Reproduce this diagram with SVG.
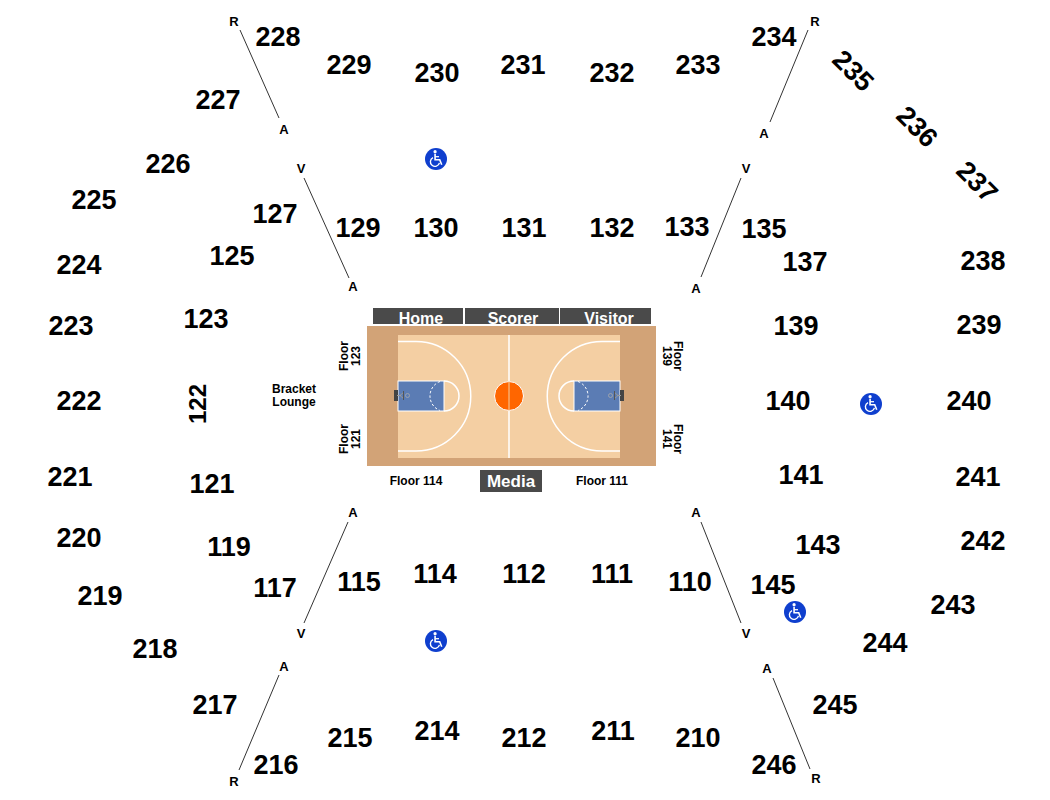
<svg xmlns="http://www.w3.org/2000/svg" width="1050" height="800" viewBox="0 0 1050 800">
<style>
text{font-family:"Liberation Sans",Arial,sans-serif;font-weight:700;fill:#000;text-anchor:middle}
.s{font-size:27px}
.l{font-size:13px}
.f{font-size:12px}
.b{font-size:16px;fill:#fff}
.bar{fill:#4a4a4a}
.c{stroke:#333;stroke-width:1;fill:none}
.w{stroke:#fff;stroke-width:1.5;fill:none}
.d{stroke:#fff;stroke-width:1;stroke-dasharray:2.5 2;fill:none}
</style>
<defs>
<clipPath id="homeClip"><rect x="373" y="308" width="278" height="16"/></clipPath>
<g id="wc">
<circle r="11" fill="#0f3fce"/>
<g transform="scale(1.15)">
<circle cx="-0.8" cy="-6.4" r="1.4" fill="#fff"/>
<path d="M-0.8-4.6V0.6H3.2L5 5" fill="none" stroke="#fff" stroke-width="1.4"/>
<path d="M-0.8-2H2.6" fill="none" stroke="#fff" stroke-width="1.1"/>
<path d="M-2.6-1.2A4 4 0 1 0 3 3.4" fill="none" stroke="#fff" stroke-width="1.2"/>
</g>
</g>
<g id="halfcourt">
<rect x="398" y="381" width="46" height="30" fill="#5b7cb4" stroke="#fff" stroke-width="1"/>
<path class="w" d="M398 341.500H416A54.750 54.750 0 0 1 416 451H398"/>
<path class="w" d="M444 381A15 15 0 0 1 444 411" stroke-width="1"/>
<path class="d" d="M440 381.500A15.500 15.500 0 0 0 440 410.500"/>
<rect x="394" y="390" width="4" height="11" fill="#444"/>
<path d="M397 395.500H401M404 392L400 395.500L404 399" stroke="#999" stroke-width="1" fill="none"/>
<path d="M403.500 391V400" stroke="#555" stroke-width="1"/>
<circle cx="407.500" cy="395.500" r="2" fill="none" stroke="#a9a9a9" stroke-width="0.8"/>
</g>
</defs>
<rect width="1050" height="800" fill="#fff"/>

<g id="connectors">
<path class="c" d="M240 30L279 118"/>
<path class="c" d="M304 178L349 278"/>
<path class="c" d="M808 30L770 122"/>
<path class="c" d="M741 178L701 277"/>
<path class="c" d="M348 522L304 623"/>
<path class="c" d="M279 675L239 770"/>
<path class="c" d="M701 522L741 623"/>
<path class="c" d="M773 678L810 769"/>
</g>

<g id="court">
<rect x="367" y="326" width="289" height="140" fill="#d2a377"/>
<rect x="398" y="335" width="222" height="123" fill="#f4cfa3"/>
<use href="#halfcourt"/>
<use href="#halfcourt" transform="matrix(-1 0 0 1 1018 0)"/>
<path class="w" d="M509 335V458"/>
<circle cx="509" cy="396" r="14.500" fill="#f60" stroke="#fff" stroke-width="1"/>
<path d="M509 381V411" stroke="#f4cfa3" stroke-width="1"/>
</g>

<g id="bars">
<rect class="bar" x="373" y="308" width="90" height="16"/>
<rect class="bar" x="465" y="308" width="94" height="16"/>
<rect class="bar" x="560" y="308" width="91" height="16"/>
<g clip-path="url(#homeClip)">
<text class="b" x="421" y="323.500">Home</text>
<text class="b" x="513" y="323.500">Scorer</text>
<text class="b" x="609" y="323.500">Visitor</text>
</g>
<rect class="bar" x="480" y="470" width="62" height="22"/>
<text class="b" x="511" y="487" style="font-size:17px">Media</text>
</g>

<g id="floor-labels">
<text class="f" transform="translate(348 356) rotate(-90)">Floor</text>
<text class="f" transform="translate(360 356) rotate(-90)">123</text>
<text class="f" transform="translate(348 439) rotate(-90)">Floor</text>
<text class="f" transform="translate(360 439) rotate(-90)">121</text>
<text class="f" transform="translate(674 356) rotate(90)">Floor</text>
<text class="f" transform="translate(663 356) rotate(90)">139</text>
<text class="f" transform="translate(674 439) rotate(90)">Floor</text>
<text class="f" transform="translate(663 439) rotate(90)">141</text>
<text class="f" x="416" y="485">Floor 114</text>
<text class="f" x="602" y="485">Floor 111</text>
<text class="f" x="294" y="393">Bracket</text>
<text class="f" x="294" y="406">Lounge</text>
</g>

<g id="aisle-labels">
<text class="l" x="234" y="26">R</text>
<text class="l" x="284" y="134">A</text>
<text class="l" x="301" y="173">V</text>
<text class="l" x="353" y="291">A</text>
<text class="l" x="815" y="26">R</text>
<text class="l" x="764" y="138">A</text>
<text class="l" x="746" y="173">V</text>
<text class="l" x="696" y="293">A</text>
<text class="l" x="353" y="517">A</text>
<text class="l" x="301" y="638">V</text>
<text class="l" x="284" y="671">A</text>
<text class="l" x="234" y="786">R</text>
<text class="l" x="696" y="517">A</text>
<text class="l" x="746" y="638">V</text>
<text class="l" x="767" y="673">A</text>
<text class="l" x="816" y="783">R</text>
</g>

<g id="accessible">
<use href="#wc" x="436" y="159"/>
<use href="#wc" x="871" y="404"/>
<use href="#wc" x="795" y="612"/>
<use href="#wc" x="436" y="641"/>
</g>

<g id="sections">
<text class="s" x="278" y="46">228</text>
<text class="s" x="349" y="74">229</text>
<text class="s" x="437" y="82">230</text>
<text class="s" x="523" y="74">231</text>
<text class="s" x="612" y="82">232</text>
<text class="s" x="698" y="74">233</text>
<text class="s" x="774" y="46">234</text>
<text class="s" transform="translate(853.500 70.500) rotate(45)" y="9.500">235</text>
<text class="s" transform="translate(917.500 126.500) rotate(45)" y="9.500">236</text>
<text class="s" transform="translate(977.500 181.500) rotate(45)" y="9.500">237</text>
<text class="s" x="983" y="270">238</text>
<text class="s" x="979" y="334">239</text>
<text class="s" x="969" y="410">240</text>
<text class="s" x="978" y="486">241</text>
<text class="s" x="983" y="550">242</text>
<text class="s" x="953" y="614">243</text>
<text class="s" x="885" y="652">244</text>
<text class="s" x="835" y="714">245</text>
<text class="s" x="774" y="774">246</text>
<text class="s" x="698" y="747">210</text>
<text class="s" x="613" y="740">211</text>
<text class="s" x="524" y="747">212</text>
<text class="s" x="437" y="740">214</text>
<text class="s" x="350" y="747">215</text>
<text class="s" x="276" y="774">216</text>
<text class="s" x="215" y="714">217</text>
<text class="s" x="155" y="658">218</text>
<text class="s" x="100" y="605">219</text>
<text class="s" x="79" y="547">220</text>
<text class="s" x="70" y="486">221</text>
<text class="s" x="79" y="410">222</text>
<text class="s" x="71" y="335">223</text>
<text class="s" x="79" y="274">224</text>
<text class="s" x="94" y="209">225</text>
<text class="s" x="168" y="173">226</text>
<text class="s" x="218" y="109">227</text>
<text class="s" x="275" y="223">127</text>
<text class="s" x="232" y="265">125</text>
<text class="s" x="206" y="328">123</text>
<text class="s" transform="translate(197 404) rotate(-90)" y="8.500" style="font-size:24px">122</text>
<text class="s" x="212" y="493">121</text>
<text class="s" x="229" y="556">119</text>
<text class="s" x="275" y="597">117</text>
<text class="s" x="359" y="591">115</text>
<text class="s" x="435" y="583">114</text>
<text class="s" x="524" y="583">112</text>
<text class="s" x="612" y="583">111</text>
<text class="s" x="690" y="591">110</text>
<text class="s" x="773" y="594">145</text>
<text class="s" x="818" y="554">143</text>
<text class="s" x="801" y="484">141</text>
<text class="s" x="788" y="410">140</text>
<text class="s" x="796" y="335">139</text>
<text class="s" x="805" y="271">137</text>
<text class="s" x="764" y="238">135</text>
<text class="s" x="687" y="236">133</text>
<text class="s" x="612" y="237">132</text>
<text class="s" x="524" y="237">131</text>
<text class="s" x="436" y="237">130</text>
<text class="s" x="358" y="237">129</text>
</g>
</svg>
